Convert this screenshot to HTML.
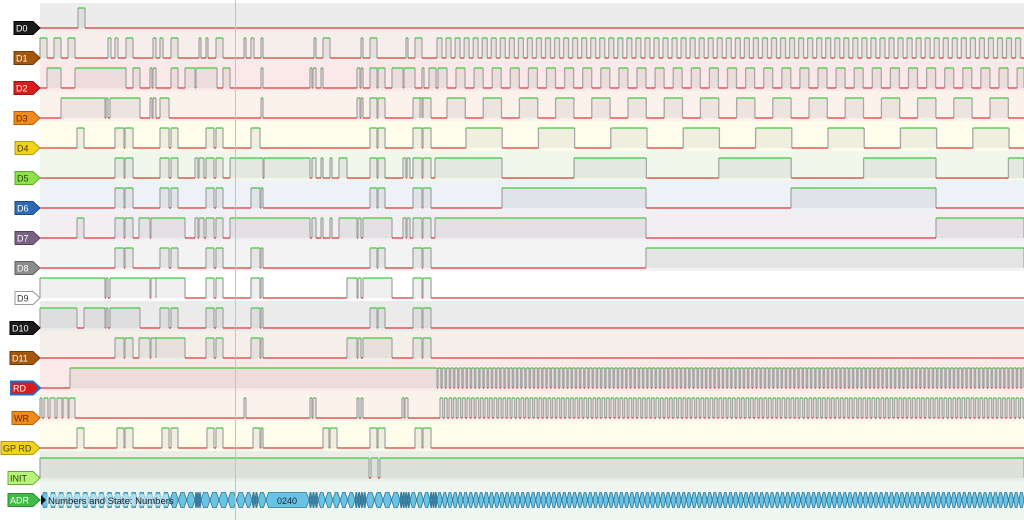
<!DOCTYPE html>
<html><head><meta charset="utf-8"><style>
html,body{margin:0;padding:0;background:#fff;width:1024px;height:520px;overflow:hidden}
svg{display:block}
text{font-family:"Liberation Sans",sans-serif}
</style></head><body>
<svg id="s" width="1024" height="520" xmlns="http://www.w3.org/2000/svg">
<g id="bands"></g><g id="waves"></g><g id="adr"></g>
<line x1="235.5" y1="0" x2="235.5" y2="520" stroke="#c4c4c4" stroke-width="1"/>
<g id="labels"></g>
<rect x="47" y="494" width="121" height="12" fill="#e8f4f8" opacity="0.55"/>
<text x="48" y="504" font-size="9.5" fill="#222">Numbers and State: Numbers</text>
<text x="287" y="504" font-size="9" fill="#123" text-anchor="middle">0240</text>
</svg>
<script>
var NS="http://www.w3.org/2000/svg";
function el(p,t,a){var e=document.createElementNS(NS,t);for(var k in a)e.setAttribute(k,a[k]);document.getElementById(p).appendChild(e);return e;}
var bandCol=["#ececec","#f5eeea","#fbe9e9","#fcf2ec","#fefdec","#f2f7ec","#eef1f5","#f1eff2","#f3f3f3","#ffffff","#ebebeb","#f5efea","#fbe9e9","#fcf2ec","#fefdec","#e9efe6","#eef6f2"];
for(var i=0;i<17;i++){var y0=i==0?3:30*i+1;var y1=i==16?520:30*i+31;el("bands","rect",{x:40,y:y0,width:984,height:y1-y0,fill:bandCol[i]});}
function per(start,p,h,end){var r=[];for(var x=start;x<end;x+=p)r.push([x,Math.min(x+h,end)]);return r;}
var G=[[115,124],[125,133],[160,169],[171,178],[206,214],[216,223],[251,260],[261,263],[370,377],[378,385],[413,422],[423,431]];
var S=[];
S[0]=[[78,85]];
S[1]=[[40,47],[54,61],[68,75],[108,111],[115,118],[126,133],[153,156],[160,163],[171,178],[199,201],[206,208],[216,223],[244,246],[251,254],[261,263],[314,316],[323,330],[361,363],[370,377],[406,408],[415,422]].concat(per(437,9.04,5,1024));
S[2]=[[47,61],[75,126],[133,140],[150,152],[153,156],[171,178],[185,195],[196,217],[223,230],[261,263],[310,312],[313,316],[321,323],[357,360],[361,363],[370,377],[378,385],[392,403],[404,415],[422,424],[429,436],[438,447]].concat(per(456,18.1,9,1024));
S[3]=[[61,105],[106,108],[110,140],[150,152],[153,156],[160,169],[261,263],[357,360],[361,363],[370,377],[378,385],[413,422],[423,431],[420,423]].concat(per(447,36.2,18.3,1024));
S[4]=[[77,84],[115,124],[125,133],[160,169],[171,178],[206,214],[216,223],[251,260],[370,377],[378,385],[413,422],[423,431]].concat(per(466,72.4,36.2,1024));
S[5]=[[115,124],[125,133],[160,169],[171,178],[195,198],[199,204],[206,214],[216,223],[230,263],[264,310],[312,316],[321,323],[330,332],[339,347],[370,377],[378,385],[403,406],[407,410],[413,422],[423,431],[435,502]].concat(per(574,144.8,72.4,1024));
S[6]=G.concat([[502,646],[791,936]]);
S[7]=[[77,84],[115,124],[125,133],[139,150],[151,185],[195,198],[199,204],[206,214],[216,223],[230,310],[312,316],[321,323],[330,332],[339,357],[358,361],[363,392],[403,406],[407,410],[413,422],[423,431],[435,646],[936,1024]];
S[8]=G.concat([[646,1024]]);
S[9]=[[40,105],[106,108],[110,150],[151,156],[156,185],[206,214],[216,223],[251,260],[261,263],[347,357],[358,361],[363,392],[413,422],[423,431]];
S[10]=[[40,77],[84,105],[106,108],[110,140],[160,169],[171,178],[206,214],[216,223],[251,260],[261,263],[370,377],[378,385],[413,422],[423,431]];
S[11]=[[115,124],[125,133],[139,150],[151,156],[156,185],[206,214],[216,223],[251,260],[261,263],[347,357],[358,361],[363,392],[413,422],[423,431]];
S[12]=[[70,437]].concat(per(438,4.2,2.9,1024));
S[13]=[[40,42],[44,48],[50,55],[57,62],[63,68],[69,75],[244,246],[310,312],[313,316],[357,359],[361,363],[402,404],[405,408]].concat(per(440,4.5,2.7,1024));
S[14]=[[77,84],[117,124],[125,133],[162,169],[171,178],[207,214],[216,223],[253,260],[261,263],[323,329],[330,337],[370,377],[378,385],[415,422],[423,431]];
S[15]=[[40,369],[371,378],[380,1024]];
for(var i=0;i<16;i++){
  var lo=28+30*i, hi=8+30*i, iv=S[i].slice().sort(function(a,b){return a[0]-b[0]});
  var m=[];iv.forEach(function(a){if(m.length&&a[0]<=m[m.length-1][1]){m[m.length-1][1]=Math.max(m[m.length-1][1],a[1]);}else m.push([a[0],a[1]]);});
  var fp="",hp="",lp="",ep="",cur=40;
  S[i].forEach(function(a){fp+="M"+a[0]+" "+hi+"H"+a[1]+"V"+lo+"H"+a[0]+"Z";ep+="M"+a[0]+" "+hi+"V"+lo+"M"+a[1]+" "+hi+"V"+lo;});
  m.forEach(function(a){if(a[0]>cur)lp+="M"+cur+" "+lo+"H"+a[0];hp+="M"+a[0]+" "+hi+"H"+a[1];cur=a[1];});
  if(cur<1024)lp+="M"+cur+" "+lo+"H1024";
  el("waves","path",{d:fp,fill:"rgba(110,110,110,0.10)"});
  el("waves","path",{d:ep,stroke:"#a8a8a8","stroke-width":1.3,fill:"none"});
  if(lp)el("waves","path",{d:lp,stroke:"#dd3b3b","stroke-width":1.3,fill:"none"});
  if(hp)el("waves","path",{d:hp,stroke:"#3ccc3c","stroke-width":1.3,fill:"none"});
}
function hex(x,w,dark){var y=500,h=7.5,c=Math.min(2.5,w/3);
 el("adr","path",{d:"M"+x+" "+y+"L"+(x+c)+" "+(y-h)+"H"+(x+w-c)+"L"+(x+w)+" "+y+"L"+(x+w-c)+" "+(y+h)+"H"+(x+c)+"Z",fill:dark?"#3f86a8":"#68c3e4",stroke:"#2f7596","stroke-width":0.8});}
var segs=[[41,170,8,0],[170,195,10,0],[195,201,2,1],[201,228,9,0],[228,245,8.5,0],[245,252,10,0],[252,258,3,1],[258,266,8,0],[266,309,43,0],[309,318,3,1],[318,355,7.5,0],[355,366,2.5,1],[366,400,8,0],[400,410,2.5,1],[410,430,6.5,0],[430,437,2.5,1],[437,1024,5.2,0]];
segs.forEach(function(s){var n=Math.max(1,Math.round((s[1]-s[0])/s[2])),w=(s[1]-s[0])/n;for(var k=0;k<n;k++)hex(s[0]+k*w,w,s[3]);});
el("adr","path",{d:"M41 495L46 500L41 505Z",fill:"#111"});
var L=[["D0","#1c1c1c","#fff","#000",14],["D1","#a4560c","#fff","#6b3a08",14],["D2","#d91c1c","#fff","#9b1010",14],["D3","#f08a1c","#5a2a00","#b5600a",14],["D4","#f1d41a","#4a3a00","#b39a10",15],["D5","#8ee04a","#1f4a00","#5aa82a",15],["D6","#2f68b4","#fff","#1d4880",15],["D7","#7a6285","#fff","#54405e",15],["D8","#8c8c8c","#fff","#5e5e5e",15],["D9","#ffffff","#333","#999",15],["D10","#1c1c1c","#fff","#000",10],["D11","#a4560c","#fff","#6b3a08",10],["RD","#d91c1c","#fff","#1a72c8",11],["WR","#f08a1c","#5a2a00","#b5600a",12],["GP RD","#f1d41a","#4a3a00","#b39a10",1],["INIT","#b8f27a","#1f4a00","#6aaa3a",8],["ADR","#3fbb46","#fff","#2a8a30",8]];
L.forEach(function(l,i){var cy=i==16?500:28+30*i,x0=l[4],xr=33,xt=40;
 el("labels","path",{d:"M"+x0+" "+(cy-6.5)+"H"+xr+"L"+xt+" "+cy+"L"+xr+" "+(cy+6.5)+"H"+x0+"Z",fill:l[1],stroke:l[3],"stroke-width":i==12?2:1});
 var t=el("labels","text",{x:x0+2,y:cy+3.5,"font-size":9,fill:l[2]});t.textContent=l[0];});
</script>
</body></html>
